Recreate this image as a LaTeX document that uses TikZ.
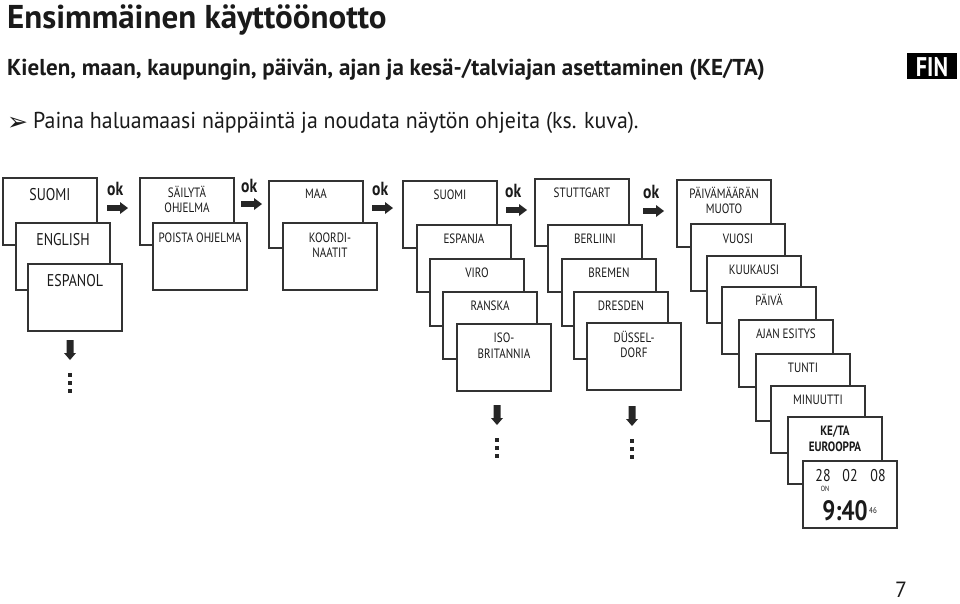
\documentclass[tikz,border=0pt]{standalone}
\usepackage{fontspec}
\setmainfont{PT Sans}
\newfontfamily\cf{PT Sans}[FakeStretch=0.82]
\newfontfamily\hf{PT Sans}
\newfontfamily\instf{PT Sans}[FakeStretch=0.95]
\newfontfamily\symf{DejaVu Sans}
\definecolor{linec}{HTML}{333333}
\definecolor{txtc}{HTML}{1A1A1A}
\definecolor{arrc}{HTML}{262626}
\newcommand\dbox[3]{\node[dispbox] (#1) at (#2,#3) {};}
\newcommand\tl[4]{\node[#1] at ([yshift=-#2pt]#3.north) {#4};}
\begin{document}
\begin{tikzpicture}[x=1pt,y=-1pt,
  dispbox/.style={draw=linec, line width=1.2pt, fill=white, minimum width=94pt, minimum height=67pt, anchor=north west, inner sep=0pt, outer sep=0pt},
  lbl/.style={font=\cf\fontsize{13.5}{15}\selectfont, text=txtc, anchor=base, inner sep=0pt},
  blbl/.style={font=\cf\bfseries\fontsize{13.5}{15}\selectfont, text=txtc, anchor=base, inner sep=0pt},
  biglbl/.style={font=\cf\fontsize{17}{19}\selectfont, text=txtc, anchor=base, inner sep=0pt},
  oklbl/.style={font=\cf\bfseries\fontsize{19}{21}\selectfont, text=txtc, anchor=base west, inner sep=0pt},
  rarrow/.pic={\fill[arrc] (0,-2.8)--(13,-2.8)--(13,-6)--(21,0)--(13,6)--(13,2.8)--(0,2.8)--cycle;},
  darrow/.pic={\fill[arrc] (-3.5,0)--(3.5,0)--(3.5,13)--(6,13)--(0,20)--(-6,13)--(-3.5,13)--cycle;},
  vdts/.pic={\foreach \yy in {0,8,16}{\fill[arrc] (-2,\yy-2) rectangle (2,\yy+2);}}
]
\useasboundingbox (0,0) rectangle (960,603);

% header
\node[anchor=base west, inner sep=0pt, text=txtc, font=\hf\bfseries\fontsize{33}{36}\selectfont] (title) at (7,28) {Ensimmäinen käyttöönotto};
\node[anchor=base west, inner sep=0pt, text=txtc, font=\hf\bfseries\fontsize{23}{26}\selectfont] (sub) at (7,75) {Kielen, maan, kaupungin, päivän, ajan ja kesä-/talviajan asettaminen (KE/TA)};
\node[anchor=base west, inner sep=0pt, text=txtc, font=\symf\fontsize{25}{27}\selectfont] (bul) at (7,130) {➢};
\node[anchor=base west, inner sep=0pt, text=txtc, font=\instf\fontsize{23}{26}\selectfont] (inst) at (33,128) {Paina haluamaasi näppäintä ja noudata näytön ohjeita (ks. kuva).};
\fill[black] (907,53) rectangle (957,79);
\node[inner sep=0pt, text=white, font=\cf\bfseries\fontsize{27}{30}\selectfont] (fin) at (932,67) {FIN};

% column 1: language
\dbox{a1}{3}{178}\tl{biglbl}{22}{a1}{SUOMI}
\dbox{a2}{16}{223}\tl{biglbl}{22}{a2}{ENGLISH}
\dbox{a3}{28}{264}\tl{biglbl}{22}{a3}{ESPANOL}

% column 2
\dbox{b1}{140}{178}\tl{lbl}{19}{b1}{SÄILYTÄ}\tl{lbl}{34}{b1}{OHJELMA}
\dbox{b2}{153}{223}\tl{lbl}{19}{b2}{POISTA OHJELMA}

% column 3
\dbox{c1}{269}{181}\tl{lbl}{17}{c1}{MAA}
\dbox{c2}{283}{223}\tl{lbl}{19}{c2}{KOORDI-}\tl{lbl}{34}{c2}{NAATIT}

% column 4: country
\dbox{d1}{403}{181}\tl{lbl}{18}{d1}{SUOMI}
\dbox{d2}{417}{225}\tl{lbl}{18}{d2}{ESPANJA}
\dbox{d3}{430}{259}\tl{lbl}{18}{d3}{VIRO}
\dbox{d4}{443}{292}\tl{lbl}{18}{d4}{RANSKA}
\dbox{d5}{457}{324}\tl{lbl}{18}{d5}{ISO-}\tl{lbl}{34}{d5}{BRITANNIA}

% column 5: city
\dbox{e1}{535}{179}\tl{lbl}{18}{e1}{STUTTGART}
\dbox{e2}{548}{225}\tl{lbl}{18}{e2}{BERLIINI}
\dbox{e3}{562}{259}\tl{lbl}{18}{e3}{BREMEN}
\dbox{e4}{574}{292}\tl{lbl}{18}{e4}{DRESDEN}
\dbox{e5}{587}{323}\tl{lbl}{19}{e5}{DÜSSEL-}\tl{lbl}{34}{e5}{DORF}

% column 6: date / time
\dbox{f1}{677}{180}\tl{lbl}{18}{f1}{PÄIVÄMÄÄRÄN}\tl{lbl}{33}{f1}{MUOTO}
\dbox{f2}{691}{224}\tl{lbl}{19}{f2}{VUOSI}
\dbox{f3}{707}{256}\tl{lbl}{18}{f3}{KUUKAUSI}
\dbox{f4}{722}{287}\tl{lbl}{18}{f4}{PÄIVÄ}
\dbox{f5}{739}{320}\tl{lbl}{18}{f5}{AJAN ESITYS}
\dbox{f6}{756}{354}\tl{lbl}{18}{f6}{TUNTI}
\dbox{f7}{771}{386}\tl{lbl}{18}{f7}{MINUUTTI}
\dbox{f8}{788}{417}\tl{blbl}{18}{f8}{KE/TA}\tl{blbl}{34}{f8}{EUROOPPA}
\dbox{f9}{803}{461}
\node[anchor=base, inner sep=0pt, text=txtc, font=\cf\fontsize{17}{19}\selectfont] (d28) at (823,481) {28};
\node[anchor=base, inner sep=0pt, text=txtc, font=\cf\fontsize{17}{19}\selectfont] (d02) at (850,481) {02};
\node[anchor=base, inner sep=0pt, text=txtc, font=\cf\fontsize{17}{19}\selectfont] (d08) at (878,481) {08};
\node[anchor=base, inner sep=0pt, text=txtc, font=\cf\fontsize{7.5}{8}\selectfont] (don) at (825,491) {ON};
\node[anchor=base, inner sep=0pt, text=txtc, font=\cf\bfseries\fontsize{28}{30}\selectfont] (dtime) at (845,520) {9:40};
\node[anchor=base west, inner sep=0pt, text=txtc, font=\cf\fontsize{8.5}{9}\selectfont] (dsec) at (869,513) {46};

% ok arrows
\node[oklbl] (ok1) at (107,195) {ok};
\node[oklbl] (ok2) at (241,192) {ok};
\node[oklbl] (ok3) at (372,195) {ok};
\node[oklbl] (ok4) at (505,197) {ok};
\node[oklbl] (ok5) at (643,198) {ok};
\pic at (107,208) {rarrow};
\pic at (241,204) {rarrow};
\pic at (372,208) {rarrow};
\pic at (506,210) {rarrow};
\pic at (643,211) {rarrow};

% down arrows and dots
\pic at (70,340) {darrow};
\pic at (70,375) {vdts};
\pic at (497,405) {darrow};
\pic at (497,440) {vdts};
\pic at (632,406) {darrow};
\pic at (632,441) {vdts};

% page number
\node[anchor=base, inner sep=0pt, text=txtc, font=\hf\fontsize{22}{24}\selectfont] (pg) at (901,597) {7};
\end{tikzpicture}
\end{document}
